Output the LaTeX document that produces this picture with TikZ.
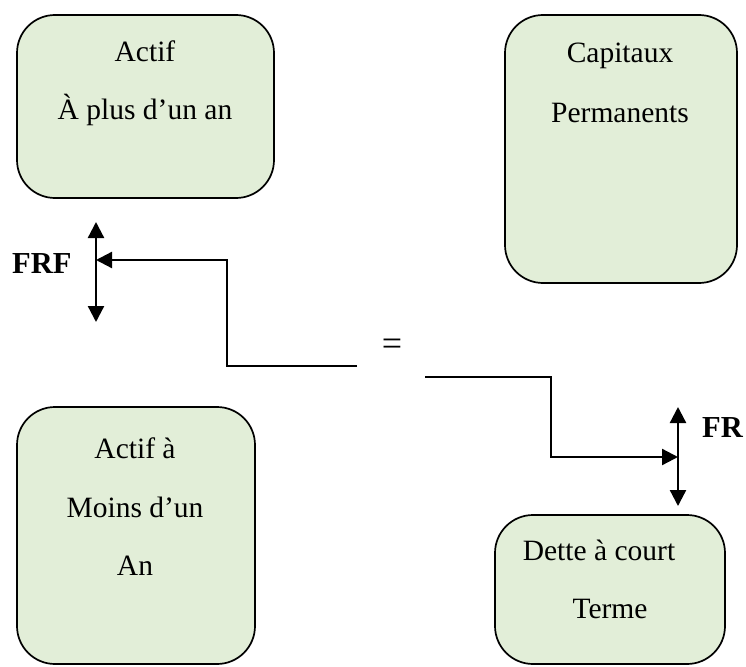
\documentclass[tikz,border=0pt]{standalone}
\usepackage{fontspec}
\setmainfont{Liberation Serif}
\usetikzlibrary{arrows.meta}
\definecolor{boxfill}{RGB}{226,238,216}
\tikzset{
  box/.style={draw=black, line width=1.7pt, fill=boxfill, rounded corners=38pt, inner sep=0pt},
  lbl/.style={font=\fontsize{29.5}{35}\selectfont, anchor=base, inner sep=0pt},
  blbl/.style={font=\fontsize{30.5}{36}\selectfont\bfseries, anchor=base west, inner sep=0pt},
  link/.style={line width=2.3pt},
  tip/.style={-{Triangle[length=16pt,width=16pt]}},
  dtip/.style={{Triangle[length=16pt,width=16pt]}-{Triangle[length=16pt,width=16pt]}}
}
\begin{document}
\begin{tikzpicture}[x=1pt,y=-1pt]
\useasboundingbox (0,0) rectangle (746,666);

% the four balance-sheet blocks
\draw[box] (17,15) rectangle (274,198);
\node[inner sep=0pt] (b1) at (145.5,106.5) {};
\draw[box] (505,15) rectangle (737,283);
\node[inner sep=0pt] (b2) at (621,149) {};
\draw[box] (17,407) rectangle (255,664);
\node[inner sep=0pt] (b3) at (136,535) {};
\draw[box] (495,515) rectangle (725,664);
\node[inner sep=0pt] (b4) at (610,590) {};

% block labels
\node[lbl] (t1a) at (145,62) {Actif};
\node[lbl] (t1b) at (145,120) {À plus d’un an};
\node[lbl] (t2a) at (620,63) {Capitaux};
\node[lbl] (t2b) at (620,122) {Permanents};
\node[lbl] (t3a) at (135,458) {Actif à};
\node[lbl] (t3b) at (135,517) {Moins d’un};
\node[lbl] (t3c) at (135,575) {An};
\node[lbl] (t4a) at (599,560) {Dette à court};
\node[lbl] (t4b) at (610,618) {Terme};

% fonds de roulement markers
\coordinate (frfTop) at (96,222);
\coordinate (frfBot) at (96,322);
\coordinate (frfMid) at (96,260);
\coordinate (frTop) at (678,407);
\coordinate (frBot) at (678,506);
\coordinate (frMid) at (678,457);
\node[blbl] (frf) at (12,273) {FRF};
\node[blbl] (fr) at (702,437) {FR};
\node[font=\fontsize{36}{40}\selectfont, inner sep=0pt] (eq) at (392,347) {=};

\coordinate (leftEnd) at (357,366);
\coordinate (rightEnd) at (425,377);

\draw[link,dtip] (frfTop) -- (frfBot);
\draw[link,dtip] (frTop) -- (frBot);
\draw[link,tip] (leftEnd) -- (227,366) -- (227,260) -- (frfMid);
\draw[link,tip] (rightEnd) -- (551,377) -- (551,457) -- (frMid);
\end{tikzpicture}
\end{document}
